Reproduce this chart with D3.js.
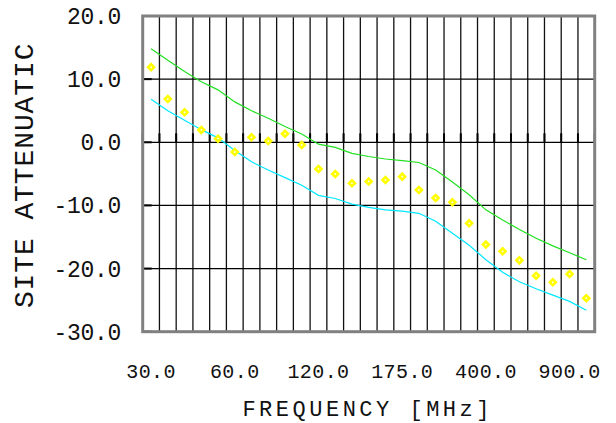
<!DOCTYPE html>
<html><head><meta charset="utf-8">
<script src="https://cdn.jsdelivr.net/npm/d3@7"></script>
<style>
html,body{margin:0;padding:0;background:#fff;}
svg{display:block;}
text{font-family:"Liberation Mono","DejaVu Sans Mono",monospace;fill:#111;}
</style></head>
<body><svg id="chart" width="616" height="423"></svg>
<script>
// ---- data ----
const frequencies = [30,35,40,45,50,60,70,80,90,100,120,125,140,150,160,175,180,200,250,300,400,500,600,700,800,900,1000];
const labeledFrequencies = [30,60,120,175,400,900];
const measured = [11.9,6.85,4.75,1.95,0.57,-1.54,0.79,0.2,1.36,-0.43,-4.23,-5.02,-6.5,-6.2,-5.97,-5.44,-7.56,-8.83,-9.5,-12.83,-16.2,-17.27,-18.7,-21.13,-22.18,-20.86,-24.7];
const upperLimit = [14.8,13.0,11.2,9.6,8.3,6.4,5.0,3.8,2.5,1.3,-0.3,-0.8,-1.75,-2.25,-2.65,-2.9,-3.2,-4.4,-6.3,-8.3,-10.7,-12.3,-13.8,-15.2,-16.4,-17.5,-18.6];
const lowerLimit = [6.8,5.0,3.5,2.0,0.7,-1.3,-3.1,-4.4,-5.6,-6.8,-8.4,-8.9,-9.8,-10.3,-10.7,-10.9,-11.25,-12.5,-14.4,-16.3,-18.6,-20.6,-22.1,-23.2,-24.2,-25.2,-26.6];
const yTicks = [20,10,0,-10,-20,-30];
const xTitle = "FREQUENCY [MHz]";
const yTitle = "SITE ATTENUATIC";

// ---- layout ----
const svg = d3.select("#chart");
const L = 142.7, R = 594.7, T = 16, B = 331.7;
const x = d3.scaleBand().domain(frequencies).range([L, R]).padding(0);
const y = d3.scaleLinear().domain([-30, 20]).range([B, T]);
const bw = x.bandwidth();
const cx = f => x(f) + bw / 2;

// grid
const grid = svg.append("g");
grid.selectAll("line.v").data(frequencies.slice(1)).enter().append("line")
  .attr("x1", d => x(d)).attr("x2", d => x(d)).attr("y1", T).attr("y2", B)
  .attr("stroke", "#111").attr("stroke-width", 1.3);
grid.selectAll("line.h").data(yTicks.filter(v => v < 20 && v > -30)).enter().append("line")
  .attr("x1", L).attr("x2", R).attr("y1", d => y(d)).attr("y2", d => y(d))
  .attr("stroke", "#000").attr("stroke-width", 1.3);

// tick stubs on zero line and left axis
grid.selectAll("line.tx").data(frequencies.map(f => x(f)).concat([R])).enter().append("line")
  .attr("x1", d => d).attr("x2", d => d).attr("y1", y(0) - 9).attr("y2", y(0))
  .attr("stroke", "#000").attr("stroke-width", 2);
grid.selectAll("line.ty").data(yTicks).enter().append("line")
  .attr("x1", L).attr("x2", L + 9).attr("y1", d => y(d)).attr("y2", d => y(d))
  .attr("stroke", "#000").attr("stroke-width", 2);

// frame
svg.append("rect").attr("x", L).attr("y", T).attr("width", R - L).attr("height", B - T)
  .attr("fill", "none").attr("stroke", "#808080").attr("stroke-width", 3);

// lines
const line = d3.line().x((d, i) => cx(frequencies[i])).y(d => y(d));
svg.append("path").datum(upperLimit).attr("d", line).attr("fill", "none")
  .attr("stroke", "#22e022").attr("stroke-width", 1.2);
svg.append("path").datum(lowerLimit).attr("d", line).attr("fill", "none")
  .attr("stroke", "#00e8ff").attr("stroke-width", 1.2);

// markers
const diamond = d3.symbol().type(d3.symbolSquare).size(46);
const mk = svg.append("g").selectAll("g").data(measured).enter().append("g")
  .attr("transform", (d, i) => `translate(${cx(frequencies[i])},${y(d)}) rotate(45)`);
mk.append("path").attr("d", diamond).attr("fill", "#ffff00");
mk.append("rect").attr("x", -0.8).attr("y", -0.8).attr("width", 1.6).attr("height", 1.6).attr("fill", "#fff");

// y tick labels
svg.append("g").selectAll("text").data(yTicks).enter().append("text")
  .attr("x", 121).attr("y", d => y(d) + 8)
  .attr("text-anchor", "end")
  .style("font-size", "23px").style("letter-spacing", "-0.3px")
  .text(d => d.toFixed(1));

// x tick labels
svg.append("g").selectAll("text").data(labeledFrequencies).enter().append("text")
  .attr("x", d => cx(d)).attr("y", 378)
  .attr("text-anchor", "middle")
  .style("font-size", "20px").style("letter-spacing", "0.4px")
  .text(d => d.toFixed(1));

// axis titles
svg.append("text").attr("x", (L + R) / 2 - 1).attr("y", 416)
  .attr("text-anchor", "middle")
  .style("font-size", "22px").style("letter-spacing", "3.5px")
  .text(xTitle);
svg.append("text").attr("transform", `translate(33,${(T + B) / 2 + 1.5}) rotate(-90)`)
  .attr("text-anchor", "middle")
  .style("font-size", "28px").style("letter-spacing", "0.9px")
  .text(yTitle);
</script></body></html>
